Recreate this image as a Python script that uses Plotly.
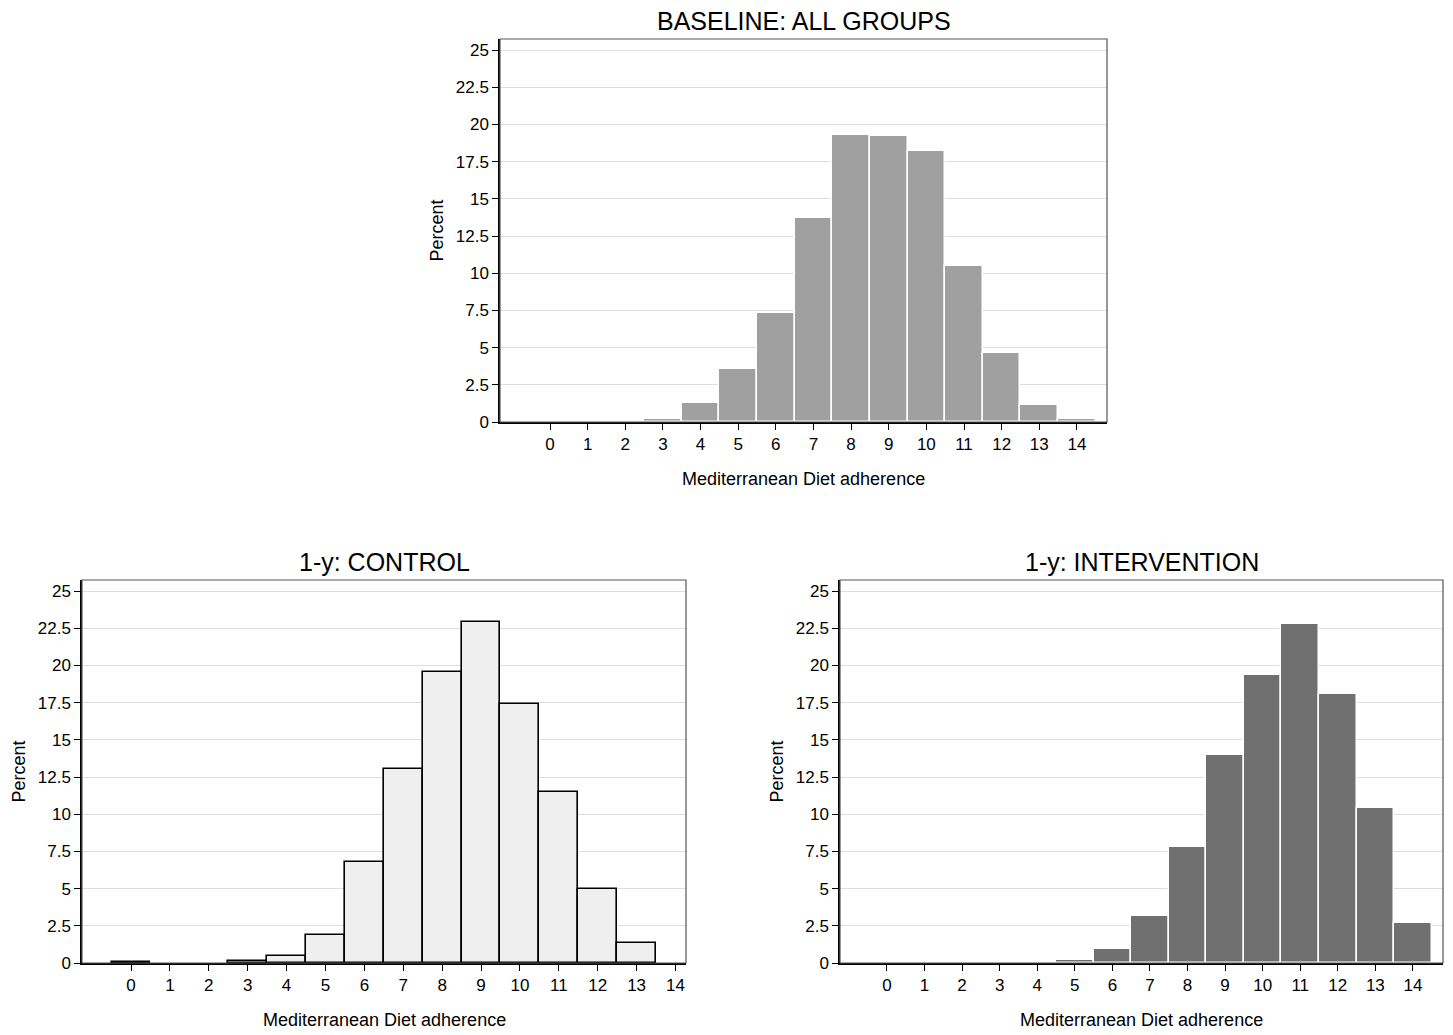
import plotly.graph_objects as go

# Categories (Mediterranean Diet adherence score); -1 holds a tiny artefact bar seen at the left edge
scores = list(range(-1, 15))

baseline_pct = [0.05, 0.0, 0.05, 0.0, 0.22, 1.28, 3.56, 7.33, 13.7, 19.29, 19.22, 18.2, 10.48, 4.64, 1.14, 0.2]
control_pct = [0.0, 0.1, 0.0, 0.0, 0.15, 0.47, 1.88, 6.79, 13.04, 19.56, 22.9, 17.4, 11.5, 4.97, 1.34, 0.0]
intervention_pct = [0.05, 0.0, 0.05, 0.05, 0.0, 0.0, 0.18, 0.94, 3.16, 7.8, 13.98, 19.35, 22.78, 18.08, 10.42, 2.69]

titles = ["BASELINE: ALL GROUPS", "1-y: CONTROL", "1-y: INTERVENTION"]
x_ticks = list(range(0, 15))
y_ticks = [0, 2.5, 5, 7.5, 10, 12.5, 15, 17.5, 20, 22.5, 25]
y_tick_labels = ["0", "2.5", "5", "7.5", "10", "12.5", "15", "17.5", "20", "22.5", "25"]
x_title = "Mediterranean Diet adherence"
y_title = "Percent"

OFF = 8  # default page body margin
W, H = 1453 - OFF, 1035 - OFF
FONT = "Liberation Sans, Arial, Helvetica, sans-serif"

panels = [
    dict(y=baseline_pct, fill="#a0a0a0", line="white", lw=1.5,
         xpx=(500, 1107), ypx=(39, 422), xr=[-1.33, 14.8]),
    dict(y=control_pct, fill="#efefef", line="black", lw=1.6,
         xpx=(82, 686), ypx=(580, 963), xr=[-1.26, 14.27]),
    dict(y=intervention_pct, fill="#707070", line="white", lw=1.5,
         xpx=(840, 1443), ypx=(580, 963), xr=[-1.25, 14.8]),
]


def px_x(v):
    return (v - OFF) / W


def px_y(v):
    return 1 - (v - OFF) / H


fig = go.Figure()
annotations = []
shapes = []
layout = {}
for i, p in enumerate(panels):
    n = "" if i == 0 else str(i + 1)
    xa, ya = "x" + n, "y" + n
    yv = [v if v > 0 else None for v in p["y"]]
    fig.add_trace(go.Bar(x=scores, y=yv, width=1.0, xaxis=xa, yaxis=ya,
                         marker=dict(color=p["fill"], line=dict(color=p["line"], width=p["lw"])),
                         showlegend=False, hoverinfo="x+y"))
    xd = [px_x(p["xpx"][0]), px_x(p["xpx"][1])]
    yd = [px_y(p["ypx"][1]), px_y(p["ypx"][0])]
    layout["xaxis" + n] = dict(domain=xd, range=p["xr"], anchor=ya, tickmode="array",
                               tickvals=x_ticks, ticktext=[str(t) for t in x_ticks],
                               ticks="outside", ticklen=6, tickcolor="black", tickwidth=1.2,
                               showline=True, linecolor="black", linewidth=1.5,
                               showgrid=False, zeroline=False, automargin=False,
                               tickfont=dict(family=FONT, size=17, color="black"))
    layout["yaxis" + n] = dict(domain=yd, range=[0, 25.74], anchor=xa, tickmode="array",
                               tickvals=y_ticks, ticktext=y_tick_labels,
                               ticks="outside", ticklen=6, tickcolor="black", tickwidth=1.2,
                               showline=True, linecolor="black", linewidth=1.5,
                               showgrid=True, gridcolor="#dedede", gridwidth=1.2, zeroline=False,
                               automargin=False,
                               tickfont=dict(family=FONT, size=17, color="black"))
    shapes.append(dict(type="rect", xref="paper", yref="paper", x0=xd[0], x1=xd[1], y0=yd[0], y1=yd[1],
                       line=dict(color="#555555", width=1.2), layer="above"))
    annotations.append(dict(text=titles[i], xref="paper", yref="paper",
                            x=(xd[0] + xd[1]) / 2, y=px_y(p["ypx"][0] - 18),
                            yanchor="middle", xanchor="center", showarrow=False,
                            font=dict(family=FONT, size=25, color="black")))
    annotations.append(dict(text=x_title, xref="paper", yref="paper",
                            x=(xd[0] + xd[1]) / 2, y=px_y(p["ypx"][1] + 57),
                            yanchor="middle", xanchor="center", showarrow=False,
                            font=dict(family=FONT, size=18, color="black")))
    annotations.append(dict(text=y_title, xref="paper", yref="paper", textangle=-90,
                            x=px_x(p["xpx"][0] - 63), y=(yd[0] + yd[1]) / 2,
                            yanchor="middle", xanchor="center", showarrow=False,
                            font=dict(family=FONT, size=18, color="black")))

fig.update_layout(width=W, height=H, margin=dict(l=0, r=0, t=0, b=0, autoexpand=False),
                  paper_bgcolor="white", plot_bgcolor="white", bargap=0,
                  annotations=annotations, shapes=shapes, **layout)

fig.write_html("out.html")
